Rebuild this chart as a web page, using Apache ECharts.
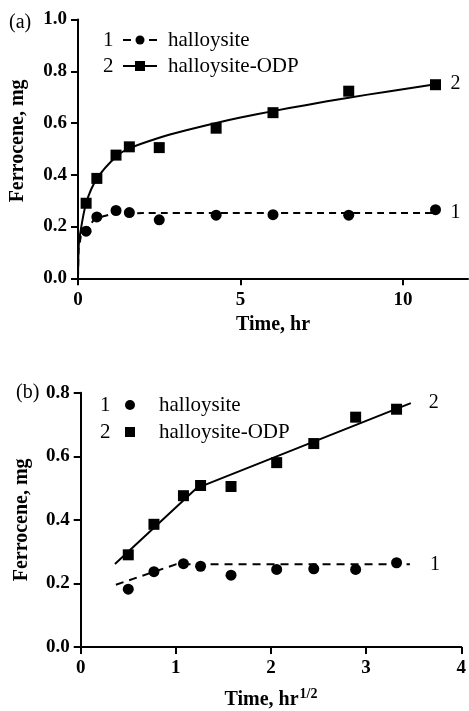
<!DOCTYPE html>
<html>
<head>
<meta charset="utf-8">
<script src="https://cdn.jsdelivr.net/npm/echarts@6/dist/echarts.min.js"></script>
<style>
	html, body { margin: 0; padding: 0; background: #fff; }
	#chart { width: 469px; height: 711px; }
</style>
</head>
<body>
<div id="chart"></div>
<script>
// measured points (same samples, two time scales)
const timeHr = [0.25, 0.58, 1.17, 1.58, 2.5, 4.25, 6.0, 8.33, 11.0];
const timeSqrt = [0.5, 0.77, 1.08, 1.26, 1.58, 2.06, 2.45, 2.89, 3.32];
const halloysite = [0.182, 0.237, 0.262, 0.254, 0.226, 0.244, 0.246, 0.244, 0.265];
const halloysiteODP = [0.29, 0.386, 0.476, 0.508, 0.505, 0.58, 0.64, 0.723, 0.748];

// fitted curves
const fitHalloA_x = [0, 0.02, 0.1, 0.25, 0.58, 1.17, 2.0, 11.0];
const fitHalloA_y = [0, 0.12, 0.165, 0.19, 0.235, 0.25, 0.252, 0.252];
const fitOdpA_x = [0, 0.02, 0.05, 0.25, 0.58, 1.17, 1.58, 2.5, 3.3, 4.25, 5.0, 6.0, 7.0, 8.33, 9.5, 11.0];
const fitOdpA_y = [0, 0.12, 0.16, 0.29, 0.385, 0.47, 0.502, 0.543, 0.571, 0.6, 0.621, 0.646, 0.669, 0.698, 0.721, 0.75];

// fitted lines
const fitHalloB_x = [0.37, 1.0, 3.46];
const fitHalloB_y = [0.196, 0.26, 0.26];
const fitOdpB_x = [0.36, 1.22, 3.47];
const fitOdpB_y = [0.261, 0.5, 0.767];

const xTicksA = [0, 5, 10];

const serif = '"Liberation Serif", "Times New Roman", serif';
const pairs = (xs, ys) => xs.map((x, i) => [x, ys[i]]);

const chart = echarts.init(document.getElementById('chart'), null, { renderer: 'canvas' });

const axisCommon = {
	axisLine: { show: true, onZero: false, lineStyle: { color: '#000', width: 2 } },
	axisTick: { show: true, length: 7, lineStyle: { color: '#000', width: 2 } },
	splitLine: { show: false },
	axisLabel: { color: '#000', fontFamily: serif, fontWeight: 'bold', fontSize: 19 },
	nameTextStyle: { color: '#000', fontFamily: serif, fontWeight: 'bold', fontSize: 20 },
	nameLocation: 'middle',
};

const dot = { color: '#000', opacity: 1 };

const option = {
	animation: false,
	backgroundColor: '#fff',
	grid: [
		{ left: 77.5, top: 19.5, width: 390.5, height: 258.8 },
		{ left: 80.7, top: 392.7, width: 385, height: 254.6 },
	],
	xAxis: [
		{
			...axisCommon,
			gridIndex: 0, type: 'value', min: 0, max: 12,
			name: 'Time, hr', nameGap: 37,
			axisLabel: { ...axisCommon.axisLabel, margin: 12, customValues: xTicksA },
			axisTick: { ...axisCommon.axisTick, customValues: xTicksA },
		},
		{
			...axisCommon,
			gridIndex: 1, type: 'value', min: 0, max: 4, interval: 1,
			name: '{t|Time, hr}{s|1/2}', nameGap: 40,
			axisLabel: { ...axisCommon.axisLabel, margin: 12 },
			nameTextStyle: {
				...axisCommon.nameTextStyle,
				rich: {
					t: { fontFamily: serif, fontWeight: 'bold', fontSize: 20, color: '#000' },
					s: { fontFamily: serif, fontWeight: 'bold', fontSize: 14, color: '#000', padding: [0, 0, 12, 1] },
				},
			},
		},
	],
	yAxis: [
		{
			...axisCommon,
			gridIndex: 0, type: 'value', min: 0, max: 1, interval: 0.2,
			name: 'Ferrocene, mg', nameGap: 50,
			nameTextStyle: { ...axisCommon.nameTextStyle, padding: [0, 0, 0, 16] },
			axisLabel: { ...axisCommon.axisLabel, margin: 11, formatter: (v) => v.toFixed(1) },
		},
		{
			...axisCommon,
			gridIndex: 1, type: 'value', min: 0, max: 0.8, interval: 0.2,
			name: 'Ferrocene, mg', nameGap: 49,
			axisLabel: { ...axisCommon.axisLabel, margin: 11, formatter: (v) => v.toFixed(1) },
		},
	],
	series: [
		// panel (a)
		{
			type: 'line', xAxisIndex: 0, yAxisIndex: 0,
			data: pairs(fitHalloA_x, fitHalloA_y),
			showSymbol: false, smooth: 0.3, smoothMonotone: 'x',
			lineStyle: { color: '#000', width: 2, type: [7, 5] },
			endLabel: { show: true, formatter: '1', distance: 15, color: '#000', fontFamily: serif, fontSize: 20 },
		},
		{
			type: 'line', xAxisIndex: 0, yAxisIndex: 0,
			data: pairs(fitOdpA_x, fitOdpA_y),
			showSymbol: false, smooth: 0.3,
			lineStyle: { color: '#000', width: 2 },
			endLabel: { show: true, formatter: '2', distance: 15, color: '#000', fontFamily: serif, fontSize: 20 },
		},
		{
			type: 'scatter', xAxisIndex: 0, yAxisIndex: 0,
			data: pairs(timeHr, halloysite),
			symbol: 'circle', symbolSize: 11, itemStyle: dot,
		},
		{
			type: 'scatter', xAxisIndex: 0, yAxisIndex: 0,
			data: pairs(timeHr, halloysiteODP),
			symbol: 'rect', symbolSize: 11, itemStyle: dot,
		},
		// panel (b)
		{
			type: 'line', xAxisIndex: 1, yAxisIndex: 1,
			data: pairs(fitHalloB_x, fitHalloB_y),
			showSymbol: false,
			lineStyle: { color: '#000', width: 2, type: [8, 6] },
			endLabel: { show: true, formatter: '1', distance: 20, color: '#000', fontFamily: serif, fontSize: 20 },
		},
		{
			type: 'line', xAxisIndex: 1, yAxisIndex: 1,
			data: pairs(fitOdpB_x, fitOdpB_y),
			showSymbol: false,
			lineStyle: { color: '#000', width: 2 },
			endLabel: { show: true, formatter: '2', distance: 18, color: '#000', fontFamily: serif, fontSize: 20 },
		},
		{
			type: 'scatter', xAxisIndex: 1, yAxisIndex: 1,
			data: pairs(timeSqrt, halloysite),
			symbol: 'circle', symbolSize: 11, itemStyle: dot,
		},
		{
			type: 'scatter', xAxisIndex: 1, yAxisIndex: 1,
			data: pairs(timeSqrt, halloysiteODP),
			symbol: 'rect', symbolSize: 11, itemStyle: dot,
		},
	],
	graphic: [
		// panel tags
		{ type: 'text', left: 9, top: 13, style: { text: '(a)', font: '20px ' + serif, fill: '#000' } },
		{ type: 'text', left: 16, top: 383, style: { text: '(b)', font: '20px ' + serif, fill: '#000' } },
		// legend (a)
		{ type: 'text', x: 103, y: 40, style: { text: '1', font: '21px ' + serif, fill: '#000', verticalAlign: 'middle' } },
		{ type: 'line', shape: { x1: 123, y1: 40, x2: 157, y2: 40 }, style: { stroke: '#000', lineWidth: 2, lineDash: [8, 5] } },
		{ type: 'circle', shape: { cx: 140, cy: 40, r: 4.5 }, style: { fill: '#000' } },
		{ type: 'text', x: 168, y: 40, style: { text: 'halloysite', font: '21px ' + serif, fill: '#000', verticalAlign: 'middle' } },
		{ type: 'text', x: 103, y: 66, style: { text: '2', font: '21px ' + serif, fill: '#000', verticalAlign: 'middle' } },
		{ type: 'line', shape: { x1: 123, y1: 66, x2: 157, y2: 66 }, style: { stroke: '#000', lineWidth: 2 } },
		{ type: 'rect', shape: { x: 135, y: 61, width: 10, height: 10 }, style: { fill: '#000' } },
		{ type: 'text', x: 168, y: 66, style: { text: 'halloysite-ODP', font: '21px ' + serif, fill: '#000', verticalAlign: 'middle' } },
		// legend (b)
		{ type: 'text', x: 100, y: 405, style: { text: '1', font: '21px ' + serif, fill: '#000', verticalAlign: 'middle' } },
		{ type: 'circle', shape: { cx: 130, cy: 405, r: 5 }, style: { fill: '#000' } },
		{ type: 'text', x: 159, y: 405, style: { text: 'halloysite', font: '21px ' + serif, fill: '#000', verticalAlign: 'middle' } },
		{ type: 'text', x: 100, y: 432, style: { text: '2', font: '21px ' + serif, fill: '#000', verticalAlign: 'middle' } },
		{ type: 'rect', shape: { x: 125, y: 427, width: 10, height: 10 }, style: { fill: '#000' } },
		{ type: 'text', x: 159, y: 432, style: { text: 'halloysite-ODP', font: '21px ' + serif, fill: '#000', verticalAlign: 'middle' } },
	],
};

chart.setOption(option);
</script>
</body>
</html>
